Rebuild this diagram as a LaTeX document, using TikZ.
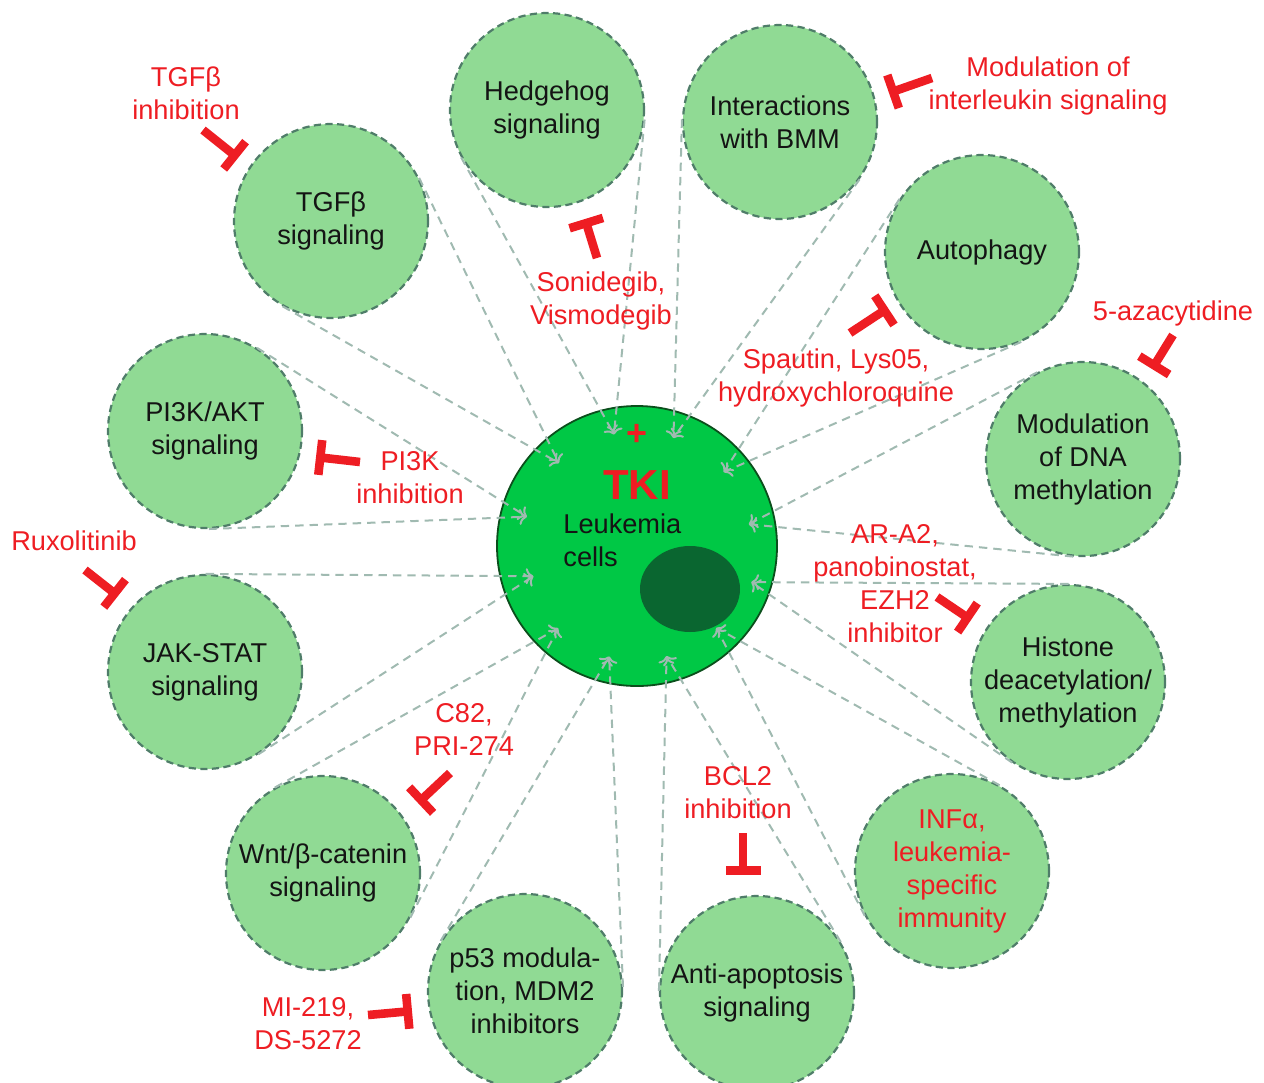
\documentclass[tikz,border=0pt]{standalone}
\usepackage{fontspec}
\setmainfont{Liberation Sans}
\usepackage{xcolor}
\usepackage{tikz}
\usetikzlibrary{calc,arrows.meta,shapes.geometric}
\definecolor{bubblegreen}{HTML}{90DA94}
\definecolor{bubbleedge}{HTML}{4F7D69}
\definecolor{cellgreen}{HTML}{00C845}
\definecolor{celledge}{HTML}{0B4F1C}
\definecolor{nucgreen}{HTML}{0A6630}
\definecolor{drugred}{HTML}{EE1D23}
\definecolor{conegray}{HTML}{A0BAB1}
\definecolor{inkblack}{HTML}{141414}
\tikzset{
	bubble/.style={circle, fill=bubblegreen, draw=bubbleedge, line width=1.1pt, dash pattern=on 3.6pt off 2.2pt, minimum size=97pt, inner sep=0pt, align=center, text=inkblack},
	cellnode/.style={circle, fill=cellgreen, draw=celledge, line width=0.9pt, minimum size=140pt, inner sep=0pt},
	nucleus/.style={ellipse, fill=nucgreen, minimum width=50pt, minimum height=43pt, inner sep=0pt},
	drug/.style={text=drugred, align=center},
	inhib/.style={draw=drugred, line width=4.3pt, -{Bar[width=17.5pt]}},
	cone/.style={draw=conegray, line width=1pt, dash pattern=on 4.2pt off 3pt, ->}
}
\begin{document}
\begin{tikzpicture}[x=0.5pt, y=-0.5pt, font=\fontsize{13.6pt}{16.5pt}\selectfont]
	\useasboundingbox (0,0) rectangle (1264,1082);
	% pathways around the cell
	\node[bubble] at (547,110) (hh)    {Hedgehog\\signaling};
	\node[bubble] at (780,122) (bmm)   {Interactions\\with BMM};
	\node[bubble] at (331,221) (tgf)   {TGFβ\\signaling};
	\node[bubble] at (982,252) (auto)  {Autophagy};
	\node[bubble] at (205,431) (pik)   {PI3K/AKT\\signaling};
	\node[bubble] at (1083,459) (dna)  {Modulation\\of DNA\\methylation};
	\node[bubble] at (205,672) (jak)   {JAK-STAT\\signaling};
	\node[bubble] at (1068,682) (hist) {Histone\\deacetylation/\\methylation};
	\node[bubble] at (323,873) (wnt)   {Wnt/β-catenin\\signaling};
	\node[bubble, text=drugred] at (952,871) (inf) {INFα,\\leukemia-\\specific\\immunity};
	\node[bubble] at (525,991) (p53)   {p53 modula-\\tion, MDM2\\inhibitors};
	\node[bubble] at (757,993) (apo)   {Anti-apoptosis\\signaling};
	
	\node[cellnode] at (637,546) (cell) {};
	
	%Lines into the cell
	\coordinate (t-hh)   at ($(cell.center)!57pt!(hh.center)$);
	\coordinate (t-bmm)  at ($(cell.center)!57pt!(bmm.center)$);
	\coordinate (t-tgf)  at ($(cell.center)!57pt!(tgf.center)$);
	\coordinate (t-auto) at ($(cell.center)!57pt!(auto.center)$);
	\coordinate (t-pik)  at ($(cell.center)!57pt!(pik.center)$);
	\coordinate (t-dna)  at ($(cell.center)!57pt!(dna.center)$);
	\coordinate (t-jak)  at ($(cell.center)!54pt!(jak.center)$);
	\coordinate (t-hist) at ($(cell.center)!60pt!(hist.center)$);
	\coordinate (t-wnt)  at ($(cell.center)!57pt!(wnt.center)$);
	\coordinate (t-inf)  at ($(cell.center)!57pt!(inf.center)$);
	\coordinate (t-p53)  at ($(cell.center)!57pt!(p53.center)$);
	\coordinate (t-apo)  at ($(cell.center)!57pt!(apo.center)$);
	\draw[cone] (tangent cs:node=hh,point={(t-hh)},solution=1) -- (t-hh);
	\draw[cone] (tangent cs:node=hh,point={(t-hh)},solution=2) -- (t-hh);
	\draw[cone] (tangent cs:node=bmm,point={(t-bmm)},solution=1) -- (t-bmm);
	\draw[cone] (tangent cs:node=bmm,point={(t-bmm)},solution=2) -- (t-bmm);
	\draw[cone] (tangent cs:node=tgf,point={(t-tgf)},solution=1) -- (t-tgf);
	\draw[cone] (tangent cs:node=tgf,point={(t-tgf)},solution=2) -- (t-tgf);
	\draw[cone] (tangent cs:node=auto,point={(t-auto)},solution=1) -- (t-auto);
	\draw[cone] (tangent cs:node=auto,point={(t-auto)},solution=2) -- (t-auto);
	\draw[cone] (tangent cs:node=pik,point={(t-pik)},solution=1) -- (t-pik);
	\draw[cone] (tangent cs:node=pik,point={(t-pik)},solution=2) -- (t-pik);
	\draw[cone] (tangent cs:node=dna,point={(t-dna)},solution=1) -- (t-dna);
	\draw[cone] (tangent cs:node=dna,point={(t-dna)},solution=2) -- (t-dna);
	\draw[cone] (tangent cs:node=jak,point={(t-jak)},solution=1) -- (t-jak);
	\draw[cone] (tangent cs:node=jak,point={(t-jak)},solution=2) -- (t-jak);
	\draw[cone] (tangent cs:node=hist,point={(t-hist)},solution=1) -- (t-hist);
	\draw[cone] (tangent cs:node=hist,point={(t-hist)},solution=2) -- (t-hist);
	\draw[cone] (tangent cs:node=wnt,point={(t-wnt)},solution=1) -- (t-wnt);
	\draw[cone] (tangent cs:node=wnt,point={(t-wnt)},solution=2) -- (t-wnt);
	\draw[cone] (tangent cs:node=inf,point={(t-inf)},solution=1) -- (t-inf);
	\draw[cone] (tangent cs:node=inf,point={(t-inf)},solution=2) -- (t-inf);
	\draw[cone] (tangent cs:node=p53,point={(t-p53)},solution=1) -- (t-p53);
	\draw[cone] (tangent cs:node=p53,point={(t-p53)},solution=2) -- (t-p53);
	\draw[cone] (tangent cs:node=apo,point={(t-apo)},solution=1) -- (t-apo);
	\draw[cone] (tangent cs:node=apo,point={(t-apo)},solution=2) -- (t-apo);
	
	% inside the cell
	\node[nucleus] at (690,589) (nuc) {};
	\node[text=drugred, font=\fontsize{18pt}{18pt}\selectfont\bfseries] at (637,435) (plus) {+};
	\node[text=drugred, font=\fontsize{21pt}{24pt}\selectfont\bfseries] at (637,485) (tki) {TKI};
	\node[align=left, anchor=west, inner sep=0pt, text=inkblack] at (563,540) (leuk) {Leukemia\\cells};
	
	% drugs
	\node[drug] at (186,93) (d-tgf)    {TGFβ\\inhibition};
	\node[drug] at (601,301) (d-hh)    {Sonidegib,\\Vismodegib};
	\node[drug] at (1048,86) (d-bmm)   {Modulation of\\interleukin signaling};
	\node[drug] at (1173,313) (d-dna)  {5-azacytidine};
	\node[drug] at (836,378) (d-auto)  {Spautin, Lys05,\\hydroxychloroquine};
	\node[drug] at (410,478) (d-pik)   {PI3K\\inhibition};
	\node[drug] at (74,541) (d-jak)    {Ruxolitinib};
	\node[drug] at (895,584) (d-hist)  {AR-A2,\\panobinostat,\\EZH2\\inhibitor};
	\node[drug] at (464,729) (d-wnt)   {C82,\\PRI-274};
	\node[drug] at (738,793) (d-apo)   {BCL2\\inhibition};
	\node[drug] at (308,1024) (d-p53)  {MI-219,\\DS-5272};
	
	%Blocks
	\coordinate (s-tgf) at (203,130);   \coordinate (e-tgf) at (238,158);
	\coordinate (s-hh) at (597,258);    \coordinate (e-hh) at (585,219);
	\coordinate (s-bmm) at (932,78);    \coordinate (e-bmm) at (889,93);
	\coordinate (s-dna) at (1173,335);  \coordinate (e-dna) at (1152,369);
	\coordinate (s-auto) at (850,333);  \coordinate (e-auto) at (888,308);
	\coordinate (s-pik) at (360,462);   \coordinate (e-pik) at (316,457);
	\coordinate (s-jak) at (85,570);    \coordinate (e-jak) at (118,596);
	\coordinate (s-hist) at (937,597);  \coordinate (e-hist) at (971,620);
	\coordinate (s-wnt) at (450,773);   \coordinate (e-wnt) at (418,803);
	\coordinate (s-apo) at (743,833);   \coordinate (e-apo) at (743,875);
	\coordinate (s-p53) at (368,1015);  \coordinate (e-p53) at (412,1011);
	\draw[inhib] (s-tgf) -- (e-tgf);
	\draw[inhib] (s-hh) -- (e-hh);
	\draw[inhib] (s-bmm) -- (e-bmm);
	\draw[inhib] (s-dna) -- (e-dna);
	\draw[inhib] (s-auto) -- (e-auto);
	\draw[inhib] (s-pik) -- (e-pik);
	\draw[inhib] (s-jak) -- (e-jak);
	\draw[inhib] (s-hist) -- (e-hist);
	\draw[inhib] (s-wnt) -- (e-wnt);
	\draw[inhib] (s-apo) -- (e-apo);
	\draw[inhib] (s-p53) -- (e-p53);
\end{tikzpicture}
\end{document}
